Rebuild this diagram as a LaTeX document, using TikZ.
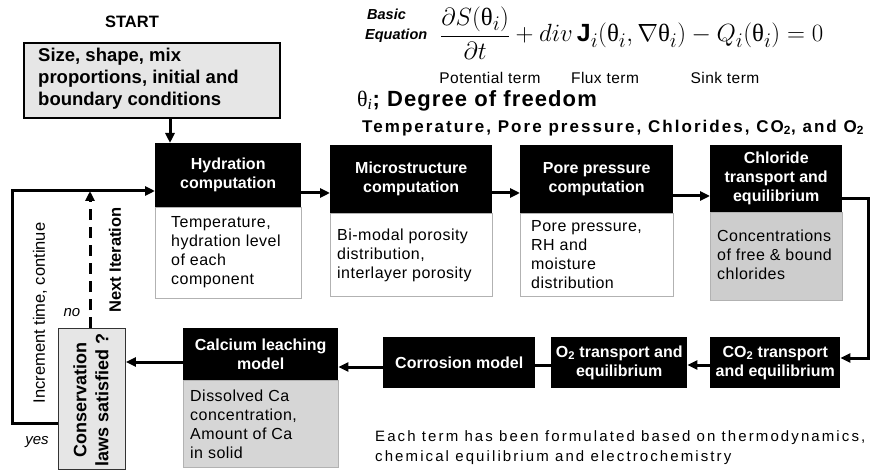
\documentclass[tikz,border=0pt]{standalone}
\usepackage{fontspec}
\setmainfont{Liberation Sans}
\newfontfamily\serifgr{Liberation Serif}
\usetikzlibrary{arrows.meta}

% font sizes used in the chart
\newcommand\fHd{\fontsize{16}{19}\selectfont\bfseries}
\newcommand\fBd{\fontsize{16}{19}\selectfont\addfontfeatures{LetterSpace=3}}
\newcommand\fSt{\fontsize{18.5}{22}\selectfont\bfseries}
\newcommand\fTop{\fontsize{16.5}{20}\selectfont\bfseries}
\newcommand\fDof{\fontsize{22}{24}\selectfont\bfseries\addfontfeatures{LetterSpace=5}}
\newcommand\fVar{\fontsize{17}{20}\selectfont\bfseries\addfontfeatures{LetterSpace=12}}
\newcommand\fNote{\fontsize{15}{20}\selectfont\addfontfeatures{LetterSpace=14}}
\newcommand\fTerm{\fontsize{15.5}{18}\selectfont\addfontfeatures{LetterSpace=3}}
\newcommand\fCons{\fontsize{18}{22}\selectfont\bfseries}
\newcommand\fSide{\fontsize{16.5}{19}\selectfont}
\newcommand\fIt{\fontsize{15}{18}\selectfont\itshape}
\newcommand\fBasic{\fontsize{14.5}{16}\selectfont\bfseries\itshape}
\newcommand\thx{\mbox{\serifgr θ}}

\definecolor{lightdot}{HTML}{E6E6E6}
\definecolor{middot}{HTML}{D6D6D6}
\definecolor{darkdot}{HTML}{CDCDCD}

\begin{document}
\begin{tikzpicture}[x=1pt,y=-1pt,
  hdr/.style={fill=black, text=white, font=\fHd, align=center, inner sep=0pt, anchor=north west},
  body/.style={draw=gray!60, line width=0.8pt, fill=white, inner sep=0pt, anchor=north west},
  txt/.style={font=\fBd, align=left, anchor=west, inner sep=0pt},
  flow/.style={line width=3pt, -{Triangle[length=10pt,width=9pt]}},
  plain/.style={line width=3pt},
]
\useasboundingbox (0,0) rectangle (875,470);

% ---------- equation block ----------
\node[font=\fBasic, anchor=west, inner sep=0pt] (basic) at (367,14) {Basic};
\node[font=\fBasic, anchor=west, inner sep=0pt] (eqname) at (365,36) {Equation};
\node[anchor=base west, inner sep=0pt, font=\fontsize{24.88}{28}\selectfont] (eqn) at (440,42)
  {$\displaystyle\frac{\partial S\bigl(\thx_i\bigr)}{\partial t}+ div\,\mathbf{J}_i\bigl(\thx_i,\nabla\thx_i\bigr)-Q_i\bigl(\thx_i\bigr)=0$};
\node[font=\fTerm, inner sep=0pt] (pot) at (490,78) {Potential term};
\node[font=\fTerm, inner sep=0pt] (flux) at (605,78) {Flux term};
\node[font=\fTerm, inner sep=0pt] (sink) at (725,78) {Sink term};
\node[font=\fDof, anchor=west, inner sep=0pt] (dof) at (357,101)
  {{\mdseries\serifgr θ}\textsubscript{\mdseries\serifgr\itshape i}; Degree of freedom};
\node[font=\fVar, anchor=west, inner sep=0pt] (vars) at (362,128)
  {Temperature, Pore pressure, Chlorides, CO\textsubscript{2}, and O\textsubscript{2}};

% ---------- start ----------
\node[font=\fTop, inner sep=0pt] (start) at (132,22) {START};
\node[draw=black, line width=1.6pt, fill=lightdot, minimum width=256pt, minimum height=75pt,
      inner sep=0pt, anchor=north west] (init) at (23,42) {};
\node[font=\fSt, align=left, anchor=west, inner sep=0pt] (initt) at (38,79)
  {Size, shape, mix\\proportions, initial and\\boundary conditions};

% ---------- upper row ----------
\node[hdr, minimum width=146pt, minimum height=64pt] (hyd) at (155,143) {Hydration\\computation};
\node[body, minimum width=146pt, minimum height=91pt] (hydb) at (155,207) {};
\node[txt] (hydt) at (171,252) {Temperature,\\hydration level\\of each\\component};

\node[hdr, minimum width=162pt, minimum height=68pt] (mic) at (330,145) {Microstructure\\computation};
\node[body, minimum width=162pt, minimum height=83pt] (micb) at (330,213) {};
\node[txt] (mict) at (337,255) {Bi-modal porosity\\distribution,\\interlayer porosity};

\node[hdr, minimum width=153pt, minimum height=68pt] (pore) at (520,145) {Pore pressure\\computation};
\node[body, minimum width=153pt, minimum height=83pt] (poreb) at (520,213) {};
\node[txt] (poret) at (531,255) {Pore pressure,\\RH and\\moisture\\distribution};

\node[hdr, minimum width=132pt, minimum height=67pt] (chl) at (710,145) {Chloride\\transport and\\equilibrium};
\node[body, fill=darkdot, minimum width=132pt, minimum height=88pt] (chlb) at (710,212) {};
\node[txt] (chlt) at (717,255) {Concentrations\\of free \& bound\\chlorides};

% ---------- lower row ----------
\node[hdr, minimum width=130pt, minimum height=51pt] (cdx) at (710,337) {CO\textsubscript{2} transport\\and equilibrium};
\node[hdr, minimum width=136pt, minimum height=51pt] (oxy) at (551,337) {O\textsubscript{2} transport and\\equilibrium};
\node[hdr, minimum width=152pt, minimum height=51pt] (cor) at (383,337) {Corrosion model};
\node[hdr, minimum width=155pt, minimum height=52pt] (cal) at (183,328) {Calcium leaching\\model};
\node[body, fill=middot, minimum width=155pt, minimum height=87pt] (calb) at (183,380) {};
\node[txt] (calt) at (190,424) {Dissolved Ca\\concentration,\\Amount of Ca\\in solid};

% ---------- convergence check ----------
\node[draw=black!80, line width=0.9pt, fill=lightdot, minimum width=67pt, minimum height=141pt,
      inner sep=0pt, anchor=north west] (cons) at (58,328) {};
\node[font=\fCons, rotate=90, align=center, inner sep=0pt] (const) at (91,400)
  {Conservation\\laws satisfied ?};

\node[font=\fIt, inner sep=0pt] (yes) at (37,442) {yes};
\node[font=\fIt, inner sep=0pt] (no) at (72,313) {no};
\node[font=\fSide, rotate=90, inner sep=0pt] (inc) at (40,313) {Increment time, continue};
\node[font=\fSide\bfseries, rotate=90, inner sep=0pt] (nxt) at (115,260) {Next Iteration};

\node[font=\fNote, align=left, anchor=west, inner sep=0pt] (note) at (375,448)
  {Each term has been formulated based on thermodynamics,\\chemical equilibrium and electrochemistry};

% ---------- connector levels ----------
\coordinate (sx) at (170,0);
\coordinate (r1) at (0,193);
\coordinate (r2) at (0,196);
\coordinate (r3) at (0,199);
\coordinate (xr) at (868,0);
\coordinate (r4) at (0,358);
\coordinate (r5) at (0,365);
\coordinate (r6) at (0,367);
\coordinate (r7) at (0,362);
\coordinate (xl) at (12,0);
\coordinate (r8) at (0,423);
\coordinate (r9) at (0,191);
\coordinate (xd) at (90,0);

% ---------- connectors ----------
\draw[flow] (init.south -| sx) -- (hyd.north -| sx);
\draw[flow] (hyd.east |- r1) -- (mic.west |- r1);
\draw[flow] (mic.east |- r1) -- (pore.west |- r1);
\draw[flow] (pore.east |- r2) -- (chl.west |- r2);
\draw[flow] (chl.east |- r3) -| (xr |- r4) -- (cdx.east |- r4);
\draw[flow] (cdx.west |- r5) -- (oxy.east |- r5);
\draw[plain] (oxy.west |- r5) -- (cor.east |- r5);
\draw[flow] (cor.west |- r6) -- (cal.east |- r6);
\draw[flow] (cal.west |- r7) -- (cons.east |- r7);
\draw[flow] (cons.west |- r8) -| (xl |- r9) -- (hyd.west |- r9);
\draw[flow, dash pattern=on 11pt off 7pt] (cons.north -| xd) -- (xd |- r9);
\end{tikzpicture}
\end{document}
